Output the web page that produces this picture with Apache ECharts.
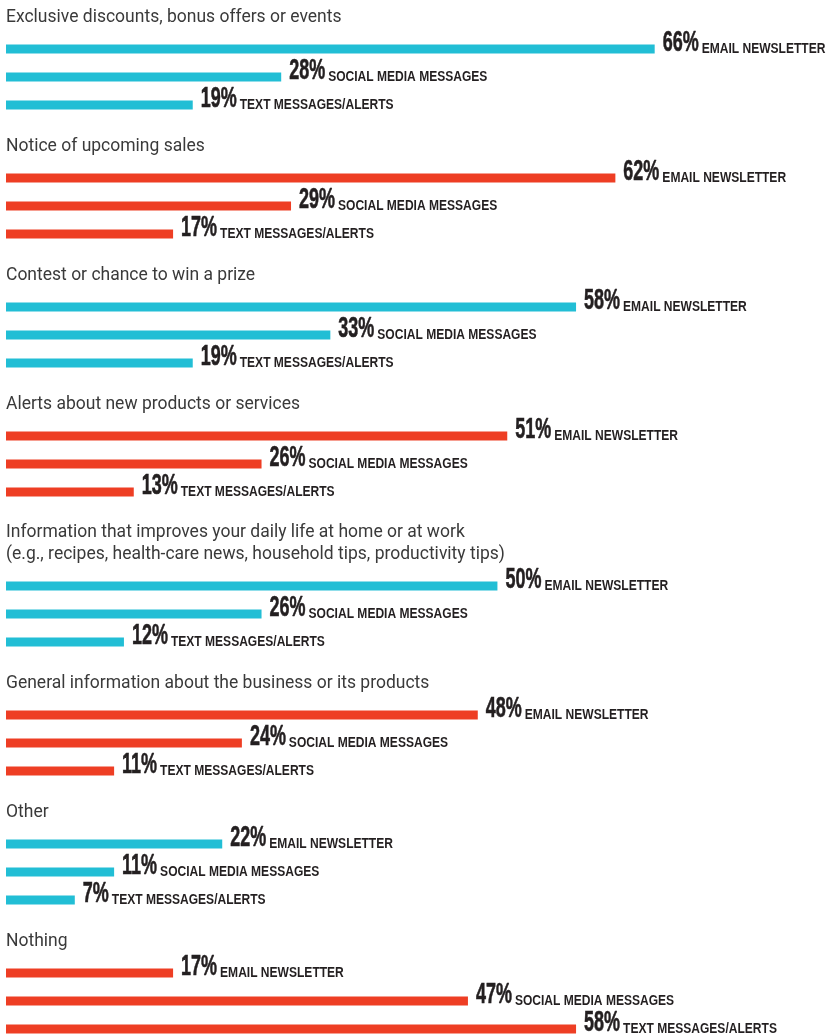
<!DOCTYPE html>
<html>
<head>
<meta charset="utf-8">
<script src="https://cdn.jsdelivr.net/npm/echarts@6/dist/echarts.min.js"></script>
<style>html,body{margin:0;padding:0;background:#fff;}#chart{width:827px;height:1035px;}</style>
</head>
<body>
<div id="chart"></div>
<script>
// ---- data ----
const questions = [
  'Exclusive discounts, bonus offers or events',
  'Notice of upcoming sales',
  'Contest or chance to win a prize',
  'Alerts about new products or services',
  'Information that improves your daily life at home or at work\n(e.g., recipes, health-care news, household tips, productivity tips)',
  'General information about the business or its products',
  'Other',
  'Nothing'
];
const channels = ['EMAIL NEWSLETTER', 'SOCIAL MEDIA MESSAGES', 'TEXT MESSAGES/ALERTS'];
const emailNewsletter = [66, 62, 58, 51, 50, 48, 22, 17];
const socialMedia = [28, 29, 33, 26, 26, 24, 11, 47];
const textMessages = [19, 17, 19, 13, 12, 11, 7, 58];

// ---- styling ----
const CYAN = '#22bed5';
const RED = '#ee3e24';
const DARK = '#231f20';
const PCT_FONT_SIZE = 29, PCT_SCALE = 0.62;
const NAME_FONT_SIZE = 14, NAME_SCALE = 0.86;
const pctFont = 'bold ' + PCT_FONT_SIZE + 'px "Liberation Sans", Arial, sans-serif';
const nameFont = 'bold ' + NAME_FONT_SIZE + 'px "Liberation Sans", Arial, sans-serif';
const measureCtx = document.createElement('canvas').getContext('2d');
function textWidth(t, font) { measureCtx.font = font; return measureCtx.measureText(t).width; }

const chart = echarts.init(document.getElementById('chart'), null, { renderer: 'canvas' });

const grids = [], xAxes = [], yAxes = [], series = [], graphics = [];
let extra = 0;
questions.forEach((q, k) => {
  const lines = q.split('\n');
  extra += 21 * (lines.length - 1);
  const top = 35 + 129 * k + extra;
  grids.push({ left: 6, right: 133, top: top, height: 84, containLabel: false, outerBoundsMode: 'none' });
  xAxes.push({ type: 'value', gridIndex: k, min: 0, max: 70, show: false });
  yAxes.push({ type: 'category', gridIndex: k, data: channels, inverse: true, show: false });
  const color = k % 2 === 0 ? CYAN : RED;
  const vals = [emailNewsletter[k], socialMedia[k], textMessages[k]];
  series.push({
    type: 'bar', xAxisIndex: k, yAxisIndex: k, barWidth: 9, silent: true,
    itemStyle: { color: color }, data: vals, animation: false
  });
  series.push({
    type: 'custom', xAxisIndex: k, yAxisIndex: k, silent: true, animation: false, clip: false,
    data: vals.map((v, i) => [v, i]),
    encode: { x: 0, y: 1 },
    renderItem: function (params, api) {
      const v = api.value(0), i = api.value(1);
      const pt = api.coord([v, i]);
      const bottom = pt[1] + 4.5;
      const pctText = v + '%';
      const px = pt[0] + 8;
      const pw = textWidth(pctText, pctFont) * PCT_SCALE;
      return {
        type: 'group',
        children: [
          { type: 'text', x: px, y: bottom - 0.3465 * PCT_FONT_SIZE, scaleX: PCT_SCALE,
            style: { text: pctText, font: pctFont, fill: DARK, stroke: DARK, lineWidth: 0.6, verticalAlign: 'middle', align: 'left' } },
          { type: 'text', x: px + pw + 3, y: bottom - 0.3465 * NAME_FONT_SIZE, scaleX: NAME_SCALE,
            style: { text: channels[i], font: nameFont, fill: DARK, verticalAlign: 'middle', align: 'left' } }
        ]
      };
    }
  });
  // question title lines
  const firstBarCenter = top + 14;
  lines.forEach((ln, j) => {
    graphics.push({
      type: 'text', x: 6, y: firstBarCenter - 31.5 - 22 * (lines.length - 1 - j), silent: true,
      style: { text: ln, font: '400 17.5px Roboto, "Liberation Sans", sans-serif', fill: '#3a3a3a', verticalAlign: 'middle', align: 'left' }
    });
  });
});

chart.setOption({
  backgroundColor: '#fff',
  animation: false,
  grid: grids, xAxis: xAxes, yAxis: yAxes, series: series,
  graphic: graphics
});
</script>
</body>
</html>
